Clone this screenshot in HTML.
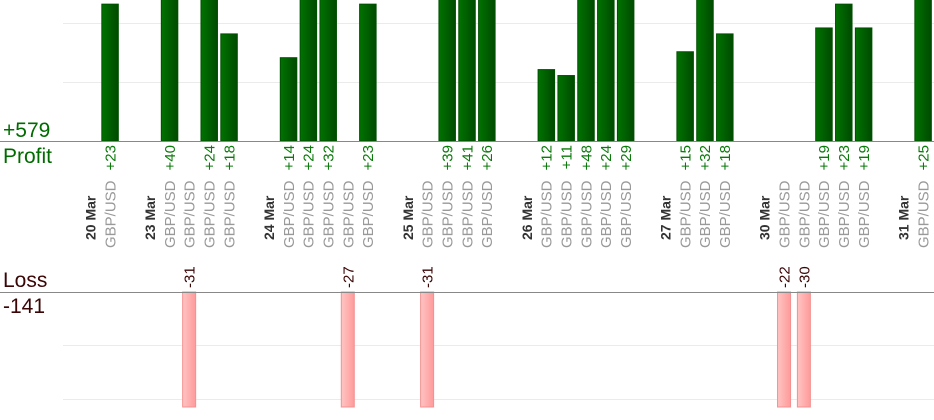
<!DOCTYPE html>
<html><head><meta charset="utf-8"><style>
html,body{margin:0;padding:0;background:#fff;}
svg{display:block;font-family:"Liberation Sans",sans-serif;}
</style></head><body>
<svg width="934" height="420" viewBox="0 0 934 420" xmlns="http://www.w3.org/2000/svg">
<defs>
<linearGradient id="g" x1="0" x2="1" y1="0" y2="0"><stop offset="0" stop-color="#007300"/><stop offset="1" stop-color="#004a00"/></linearGradient>
<linearGradient id="r" x1="0" x2="1" y1="0" y2="0"><stop offset="0" stop-color="#ffc4c4"/><stop offset="1" stop-color="#ff9a9a"/></linearGradient>
</defs>
<g stroke="#ebebeb" stroke-width="1">
<line x1="63" y1="23.5" x2="934" y2="23.5"/><line x1="63" y1="82.5" x2="934" y2="82.5"/>
<line x1="63" y1="345.5" x2="934" y2="345.5"/><line x1="63" y1="399.5" x2="934" y2="399.5"/>
</g>
<g id="bars"></g>
<line x1="0" y1="141.5" x2="934" y2="141.5" stroke="#888"/>
<line x1="0" y1="292.5" x2="934" y2="292.5" stroke="#888"/>
<text x="3" y="137" font-size="21" fill="#006b00">+579</text>
<text x="3" y="163" font-size="21" fill="#006b00">Profit</text>
<text x="3" y="287" font-size="21" fill="#3a0505">Loss</text>
<text x="3" y="313" font-size="21" fill="#3a0505">-141</text>
<g id="labels"></g>
</svg>
<script>
var items=[["d","20 Mar"],["p",23],[],["d","23 Mar"],["p",40],["l",31],["p",24],["p",18],[],["d","24 Mar"],["p",14],["p",24],["p",32],["l",27],["p",23],[],["d","25 Mar"],["l",31],["p",39],["p",41],["p",26],[],["d","26 Mar"],["p",12],["p",11],["p",48],["p",24],["p",29],[],["d","27 Mar"],["p",15],["p",32],["p",18],[],["d","30 Mar"],["l",22],["l",30],["p",19],["p",23],["p",19],[],["d","31 Mar"],["p",25]];
var ns="http://www.w3.org/2000/svg",B=document.getElementById("bars"),L=document.getElementById("labels");
function el(p,t,a,txt){var e=document.createElementNS(ns,t);for(var k in a)e.setAttribute(k,a[k]);if(txt!==undefined)e.textContent=txt;p.appendChild(e);return e;}
function rt(x,y,txt,anchor,fill,bold,fs){var e=el(L,"text",{x:0,y:0,transform:"translate("+(x+5.5)+","+y+") rotate(-90)","text-anchor":anchor,"font-size":fs||"14",fill:fill},txt);if(bold)e.setAttribute("font-weight","bold");}
items.forEach(function(it,i){
 var c=90+19.83*i;
 if(!it.length)return;
 if(it[0]=="d"){rt(c,240,it[1],"start","#333",true,"14");return;}
 rt(c,248,"GBP/USD","start","#999",false,"15");
 if(it[0]=="p"){var h=it[1]*5.95,t=Math.max(141-h,-2);
  el(B,"rect",{x:c-8,y:t,width:16.5,height:141-t,fill:"url(#g)",stroke:"#005000","stroke-width":"1"});
  rt(c,145,"+"+it[1],"end","#0a7a0a",false,"15");}
 else{el(B,"rect",{x:c-6.5,y:292,width:13,height:115,fill:"url(#r)",stroke:"#f49090","stroke-width":"1"});
  rt(c,288,"-"+it[1],"start","#3a0505",false,"15");}
});
</script>
</body></html>
